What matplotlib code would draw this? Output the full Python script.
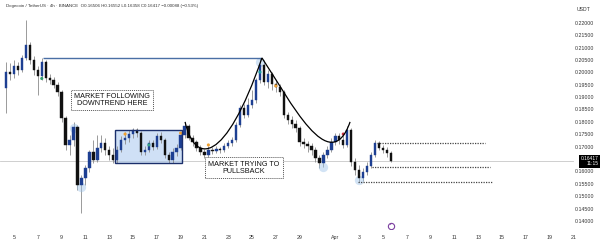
import matplotlib
matplotlib.use("Agg")
import matplotlib.pyplot as plt
import matplotlib.dates as mdates
from matplotlib.path import Path
from matplotlib.patches import PathPatch, Rectangle
import numpy as np
import pandas as pd

plt.rcParams["font.family"] = ["Liberation Sans", "DejaVu Sans"]

start = "2025-03-04 08:00"
opens = [0.1937, 0.2001, 0.1993, 0.2025, 0.2009, 0.2058, 0.2110, 0.2050, 0.2009, 0.1985,
         0.2042, 0.1977, 0.1969, 0.1949, 0.1921, 0.1816, 0.1707, 0.1727, 0.1780, 0.1546,
         0.1574, 0.1614, 0.1679, 0.1646, 0.1695, 0.1715, 0.1687, 0.1667, 0.1646, 0.1687,
         0.1727, 0.1735, 0.1751, 0.1767, 0.1755, 0.1679, 0.1687, 0.1715, 0.1699, 0.1743,
         0.1727, 0.1667, 0.1646, 0.1679, 0.1695, 0.1747, 0.1784, 0.1735, 0.1719, 0.1695,
         0.1679, 0.1667, 0.1687, 0.1683, 0.1691, 0.1687, 0.1703, 0.1715, 0.1727, 0.1788,
         0.1856, 0.1828, 0.1868, 0.1888, 0.1969, 0.2029, 0.1961, 0.1993, 0.1953, 0.1941,
         0.1921, 0.1828, 0.1808, 0.1792, 0.1776, 0.1719, 0.1711, 0.1703, 0.1687, 0.1655,
         0.1634, 0.1667, 0.1687, 0.1719, 0.1743, 0.1727, 0.1707, 0.1767, 0.1638, 0.1606,
         0.1574, 0.1598, 0.1622, 0.1667, 0.1715, 0.1695, 0.1687, 0.1675]
highs = [0.2042, 0.2038, 0.2050, 0.2042, 0.2070, 0.2210, 0.2122, 0.2066, 0.2025, 0.2058,
         0.2050, 0.1993, 0.1981, 0.1961, 0.1929, 0.1824, 0.1747, 0.1800, 0.1788, 0.1586,
         0.1626, 0.1687, 0.1727, 0.1747, 0.1747, 0.1735, 0.1703, 0.1695, 0.1703, 0.1743,
         0.1759, 0.1767, 0.1776, 0.1776, 0.1763, 0.1703, 0.1727, 0.1727, 0.1755, 0.1759,
         0.1735, 0.1679, 0.1695, 0.1711, 0.1755, 0.1800, 0.1792, 0.1747, 0.1727, 0.1707,
         0.1691, 0.1703, 0.1699, 0.1703, 0.1699, 0.1715, 0.1727, 0.1739, 0.1800, 0.1868,
         0.1872, 0.1896, 0.1929, 0.1977, 0.2058, 0.2050, 0.2009, 0.2001, 0.1969, 0.1953,
         0.1929, 0.1840, 0.1824, 0.1808, 0.1784, 0.1735, 0.1723, 0.1715, 0.1699, 0.1667,
         0.1679, 0.1703, 0.1735, 0.1755, 0.1755, 0.1747, 0.1784, 0.1776, 0.1655, 0.1626,
         0.1614, 0.1638, 0.1679, 0.1727, 0.1723, 0.1707, 0.1699, 0.1683]
lows = [0.1836, 0.1969, 0.1977, 0.1989, 0.2001, 0.2050, 0.2034, 0.1989, 0.1909, 0.1969,
        0.1961, 0.1953, 0.1937, 0.1905, 0.1800, 0.1687, 0.1667, 0.1703, 0.1525, 0.1433,
        0.1546, 0.1598, 0.1634, 0.1638, 0.1679, 0.1667, 0.1646, 0.1634, 0.1634, 0.1679,
        0.1711, 0.1719, 0.1735, 0.1739, 0.1667, 0.1667, 0.1679, 0.1687, 0.1691, 0.1715,
        0.1655, 0.1634, 0.1634, 0.1663, 0.1687, 0.1735, 0.1727, 0.1703, 0.1683, 0.1667,
        0.1655, 0.1655, 0.1671, 0.1675, 0.1675, 0.1679, 0.1695, 0.1703, 0.1719, 0.1780,
        0.1816, 0.1820, 0.1856, 0.1876, 0.1957, 0.1949, 0.1937, 0.1929, 0.1921, 0.1905,
        0.1816, 0.1792, 0.1776, 0.1759, 0.1703, 0.1695, 0.1679, 0.1667, 0.1638, 0.1614,
        0.1618, 0.1655, 0.1679, 0.1707, 0.1711, 0.1695, 0.1699, 0.1622, 0.1586, 0.1558,
        0.1562, 0.1586, 0.1614, 0.1659, 0.1687, 0.1675, 0.1659, 0.1638]
closes = [0.2001, 0.1993, 0.2025, 0.2009, 0.2058, 0.2110, 0.2050, 0.2009, 0.1985, 0.2042,
          0.1977, 0.1969, 0.1949, 0.1921, 0.1816, 0.1707, 0.1727, 0.1780, 0.1546, 0.1574,
          0.1614, 0.1679, 0.1646, 0.1695, 0.1715, 0.1687, 0.1667, 0.1646, 0.1687, 0.1727,
          0.1735, 0.1751, 0.1767, 0.1755, 0.1679, 0.1687, 0.1715, 0.1699, 0.1743, 0.1727,
          0.1667, 0.1646, 0.1679, 0.1695, 0.1747, 0.1784, 0.1735, 0.1719, 0.1695, 0.1679,
          0.1667, 0.1687, 0.1683, 0.1691, 0.1687, 0.1703, 0.1715, 0.1727, 0.1788, 0.1856,
          0.1828, 0.1868, 0.1888, 0.1969, 0.2029, 0.1961, 0.1993, 0.1953, 0.1941, 0.1921,
          0.1828, 0.1808, 0.1792, 0.1776, 0.1719, 0.1711, 0.1703, 0.1687, 0.1655, 0.1634,
          0.1667, 0.1687, 0.1719, 0.1743, 0.1727, 0.1707, 0.1767, 0.1638, 0.1606, 0.1574,
          0.1598, 0.1622, 0.1667, 0.1715, 0.1695, 0.1687, 0.1675, 0.1642]

# 0.165 sits under the last-price tag, so it is left out like on the screenshot
price_ticks = [0.140, 0.145, 0.150, 0.155, 0.160, 0.170, 0.175, 0.180,
               0.185, 0.190, 0.195, 0.200, 0.205, 0.210, 0.215, 0.220]
date_ticks = ["2025-03-05", "2025-03-07", "2025-03-09", "2025-03-11", "2025-03-13",
              "2025-03-15", "2025-03-17", "2025-03-19", "2025-03-21", "2025-03-23",
              "2025-03-25", "2025-03-27", "2025-03-29", "2025-04-01", "2025-04-03",
              "2025-04-05", "2025-04-07", "2025-04-09", "2025-04-11", "2025-04-13",
              "2025-04-15", "2025-04-17", "2025-04-19", "2025-04-21"]
date_labels = ["5", "7", "9", "11", "13", "15", "17", "19", "21", "23", "25", "27", "29",
               "Apr", "3", "5", "7", "9", "11", "13", "15", "17", "19", "21"]

last_price = 0.16417
header = ("Dogecoin / TetherUS \u00b7 4h \u00b7 BINANCE  O0.16506 H0.16552 L0.16358 "
          "C0.16417 \u22120.00088 (\u22120.53%)")

# drawn annotations
resist_dates = ["2025-03-07 10:30", "2025-03-25 20:00"]
resist_price = 0.2058
range_box_dates = ["2025-03-13 12:00", "2025-03-19 03:00"]
range_box_prices = [0.1634, 0.1767]
arc1_dates = ["2025-03-19 09:00", "2025-03-20 05:00", "2025-03-22 17:30", "2025-03-25 20:00"]
arc1_prices = [0.1800, 0.1626, 0.1626, 0.2058]
arc2_dates = ["2025-03-25 20:00", "2025-03-28 04:30", "2025-03-31 13:00", "2025-04-02 05:45"]
arc2_prices = [0.2058, 0.1888, 0.1566, 0.1800]
level_prices = [0.1715, 0.1618, 0.1558]
level_starts = ["2025-04-04 12:00", "2025-04-04 02:00", "2025-04-02 22:00"]
level_ends = ["2025-04-13 14:00", "2025-04-14 00:00", "2025-04-14 06:00"]

signal_idx = [9, 30, 36, 44, 51, 64, 68, 85]
signal_price = [0.1975, 0.1751, 0.1707, 0.1755, 0.1707, 0.2001, 0.1945, 0.1751]
signal_color = ["#2e9e6e", "#f0a030", "#3aa28a", "#f0a030", "#f0a030", "#1aa0a0", "#f0a030", "#d03040"]
halo_idx = [17, 19, 64, 80, 89]
halo_price = [0.1776, 0.1538, 0.2042, 0.1618, 0.1566]

times = pd.date_range(start, periods=len(closes), freq="8h")
x = mdates.date2num(times)
o, h, l, c = map(np.array, (opens, highs, lows, closes))
up = c >= o
body_col = np.where(up, "#1d3f92", "#111111")

fig = plt.figure(figsize=(6, 2.44), dpi=100)
ax = fig.add_axes([0, 0.0615, 1, 0.881])

ax.axhline(last_price, color="#c8c8c8", lw=0.6, xmax=0.955, zorder=1)

ax.vlines(x, l, h, color="#8a8a8a", lw=0.6, zorder=2)
ax.bar(x, np.maximum(np.abs(c - o), 0.00025), bottom=np.minimum(o, c), width=0.2,
       color=body_col, edgecolor=body_col, lw=0.3, zorder=3)

ax.scatter(x[halo_idx], halo_price, s=45, color="#9cc3ea", alpha=0.45, lw=0, zorder=2)
ax.scatter(x[signal_idx], signal_price, s=5, color=signal_color, lw=0, zorder=4)

ax.hlines(resist_price, *mdates.date2num(pd.to_datetime(resist_dates)), color="#4a6fa5", lw=1.0, zorder=4)

bx = mdates.date2num(pd.to_datetime(range_box_dates))
ax.add_patch(Rectangle((bx[0], range_box_prices[0]), bx[1] - bx[0],
                       range_box_prices[1] - range_box_prices[0],
                       facecolor="#a9c8ef", alpha=0.55, edgecolor="none", zorder=1))
ax.add_patch(Rectangle((bx[0], range_box_prices[0]), bx[1] - bx[0],
                       range_box_prices[1] - range_box_prices[0],
                       facecolor="none", edgecolor="#1b2f6b", lw=1.0, zorder=5))

for ds, ps in ((arc1_dates, arc1_prices), (arc2_dates, arc2_prices)):
    verts = list(zip(mdates.date2num(pd.to_datetime(ds)), ps))
    codes = [Path.MOVETO, Path.CURVE4, Path.CURVE4, Path.CURVE4]
    ax.add_patch(PathPatch(Path(verts, codes), facecolor="none", edgecolor="black", lw=0.9, zorder=5))

for p, s, e in zip(level_prices, level_starts, level_ends):
    ax.hlines(p, mdates.date2num(pd.Timestamp(s)), mdates.date2num(pd.Timestamp(e)),
              color="#444444", lw=0.9, linestyles=(0, (1, 1)), zorder=4)

box_style = dict(boxstyle="square,pad=0.45", facecolor="white", edgecolor="#555555",
                 lw=0.7, linestyle=(0, (1, 1)))
ax.text(mdates.date2num(pd.Timestamp("2025-03-13 06:00")), 0.1888,
        "MARKET FOLLOWING\nDOWNTREND HERE", ha="center", va="center", fontsize=5.2,
        linespacing=1.05, color="#111111", bbox=box_style, zorder=6)
ax.text(mdates.date2num(pd.Timestamp("2025-03-24 08:00")), 0.1615,
        "MARKET TRYING TO\nPULLSBACK", ha="center", va="center", fontsize=5.2,
        linespacing=1.05, color="#111111", bbox=box_style, zorder=6)

# event marker near the time axis
ev_x = mdates.date2num(pd.Timestamp("2025-04-05 16:00"))
ax.plot([ev_x], [0.1380], marker="o", ms=4.5, mfc="white", mec="#7b3fa0", mew=0.8, zorder=6)
ax.text(ev_x, 0.1380, "\u2022", color="#7b3fa0", fontsize=3, ha="center", va="center", zorder=7)

ax.set_xlim(mdates.date2num(pd.Timestamp("2025-03-03 19:45")),
            mdates.date2num(pd.Timestamp("2025-04-23 05:45")))
ax.set_ylim(0.1368, 0.2235)

ax.set_xticks(mdates.date2num(pd.to_datetime(date_ticks)))
ax.set_xticklabels(date_labels)
ax.yaxis.tick_right()
ax.set_yticks(price_ticks)
ax.set_yticklabels([f"{v:.5f}" for v in price_ticks])
ax.tick_params(axis="x", length=0, pad=4, labelsize=3.8, labelcolor="#333333")
ax.tick_params(axis="y", length=0, pad=-18, labelsize=3.8, labelcolor="#333333")
for sp in ax.spines.values():
    sp.set_visible(False)

ax.text(0.997, last_price, f"{last_price:.5f}\n11:15", transform=ax.get_yaxis_transform(),
        ha="right", va="center", fontsize=3.5, color="white", linespacing=1.0,
        bbox=dict(boxstyle="square,pad=0.3", facecolor="black", edgecolor="none"), zorder=8)

fig.text(0.01, 0.975, header, fontsize=3.2, color="#333333", ha="left", va="center")
fig.text(0.972, 0.963, "USDT", fontsize=3.7, color="#333333", ha="center", va="center")

fig.savefig("out.png", dpi=100)
